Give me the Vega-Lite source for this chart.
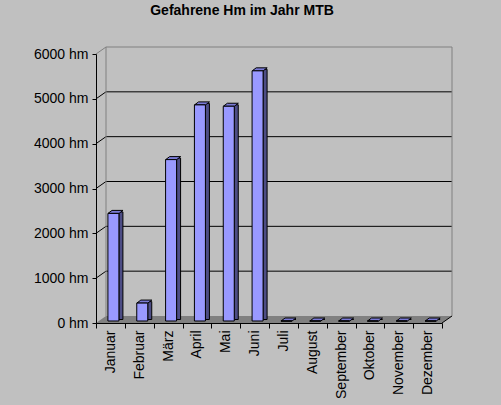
{
  "$schema": "https://vega.github.io/schema/vega-lite/v6.json",
  "width": 346,
  "height": 269,
  "autosize": "none",
  "padding": {"left": 96, "top": 54, "right": 59, "bottom": 82},
  "background": "#C0C0C0",
  "config": {"view": {"stroke": null}, "font": "Liberation Sans"},
  "title": {"text": "Gefahrene Hm im Jahr MTB", "font": "Liberation Sans", "fontSize": 14, "fontWeight": "bold", "color": "#000000", "anchor": "middle", "frame": "group", "baseline": "alphabetic", "offset": 18, "dx": -27},
  "datasets": {
    "bars": [
      {"monat": "Januar", "hm": 2400},
      {"monat": "Februar", "hm": 400},
      {"monat": "März", "hm": 3600},
      {"monat": "April", "hm": 4820},
      {"monat": "Mai", "hm": 4790},
      {"monat": "Juni", "hm": 5580},
      {"monat": "Juli", "hm": 0},
      {"monat": "August", "hm": 0},
      {"monat": "September", "hm": 0},
      {"monat": "Oktober", "hm": 0},
      {"monat": "November", "hm": 0},
      {"monat": "Dezember", "hm": 0}
    ],
    "grid": [{"v": 1000}, {"v": 2000}, {"v": 3000}, {"v": 4000}, {"v": 5000}],
    "one": [{"k": 1}]
  },
  "layer": [
    {
      "data": {"name": "one"},
      "mark": {"type": "point", "shape": "M-1,0.01966L0.9438,0.01966L1,-0.01966L-0.9438,-0.01966Z", "size": 126736, "filled": true, "fill": "#808080", "strokeWidth": 0, "opacity": 1, "xOffset": 5, "yOffset": -3.5},
      "encoding": {
        "x": {"datum": "Juli", "type": "nominal", "bandPosition": 0,
          "scale": {"domain": ["Januar", "Februar", "März", "April", "Mai", "Juni", "Juli", "August", "September", "Oktober", "November", "Dezember"], "paddingInner": 0, "paddingOuter": 0},
          "axis": {"title": null, "labelAngle": -90, "labelAlign": "right", "labelBaseline": "middle", "labelFont": "Liberation Sans", "labelFontSize": 14, "labelColor": "#000000", "labelPadding": 2, "labelOverlap": false, "labelBound": false, "tickBand": "extent", "tickSize": 5, "tickColor": "#000000", "domainColor": "#000000", "grid": false, "zindex": 1}},
        "y": {"datum": 0, "type": "quantitative",
          "scale": {"domain": [0, 6000], "nice": false, "zero": true},
          "axis": {"title": null, "values": [0, 1000, 2000, 3000, 4000, 5000, 6000], "labelExpr": "datum.value + ' hm'", "labelFont": "Liberation Sans", "labelFontSize": 14, "labelColor": "#000000", "labelPadding": 4, "tickSize": 4, "tickColor": "#000000", "domainColor": "#000000", "grid": false, "zindex": 1}}
      }
    },
    {
      "data": {"name": "grid"},
      "mark": {"type": "rule", "color": "#000000", "strokeWidth": 1, "xOffset": 10, "x2Offset": 10, "yOffset": -7, "y2Offset": -7},
      "encoding": {
        "x": {"datum": "Januar", "type": "nominal", "bandPosition": 0},
        "x2": {"datum": "Dezember", "bandPosition": 1},
        "y": {"field": "v", "type": "quantitative"}
      }
    },
    {
      "data": {"name": "grid"},
      "mark": {"type": "rule", "color": "#000000", "strokeWidth": 1, "x2Offset": 10, "y2Offset": -7},
      "encoding": {
        "x": {"datum": "Januar", "type": "nominal", "bandPosition": 0},
        "x2": {"datum": "Januar", "bandPosition": 0},
        "y": {"field": "v", "type": "quantitative"},
        "y2": {"field": "v"}
      }
    },
    {
      "data": {"name": "one"},
      "mark": {"type": "rule", "color": "#808080", "strokeWidth": 1, "xOffset": 10, "x2Offset": 10, "yOffset": -7, "y2Offset": -7},
      "encoding": {
        "x": {"datum": "Januar", "type": "nominal", "bandPosition": 0},
        "x2": {"datum": "Dezember", "bandPosition": 1},
        "y": {"datum": 6000, "type": "quantitative"}
      }
    },
    {
      "data": {"name": "one"},
      "mark": {"type": "rule", "color": "#808080", "strokeWidth": 1, "xOffset": 10, "yOffset": -7, "y2Offset": -7},
      "encoding": {
        "x": {"datum": "Januar", "type": "nominal", "bandPosition": 0},
        "y": {"datum": 6000, "type": "quantitative"},
        "y2": {"datum": 0}
      }
    },
    {
      "data": {"name": "one"},
      "mark": {"type": "rule", "color": "#808080", "strokeWidth": 1, "xOffset": 10, "yOffset": -7, "y2Offset": -7},
      "encoding": {
        "x": {"datum": "Dezember", "type": "nominal", "bandPosition": 1},
        "y": {"datum": 6000, "type": "quantitative"},
        "y2": {"datum": 0}
      }
    },
    {
      "data": {"name": "one"},
      "mark": {"type": "rule", "color": "#808080", "strokeWidth": 1, "x2Offset": 10, "y2Offset": -7},
      "encoding": {
        "x": {"datum": "Januar", "type": "nominal", "bandPosition": 0},
        "x2": {"datum": "Januar", "bandPosition": 0},
        "y": {"datum": 6000, "type": "quantitative"},
        "y2": {"datum": 6000}
      }
    },
    {
      "data": {"name": "one"},
      "mark": {"type": "rule", "color": "#000000", "strokeWidth": 1, "x2Offset": 10, "y2Offset": -7},
      "encoding": {
        "x": {"datum": "Dezember", "type": "nominal", "bandPosition": 1},
        "x2": {"datum": "Dezember", "bandPosition": 1},
        "y": {"datum": 0, "type": "quantitative"},
        "y2": {"datum": 0}
      }
    },
    {
      "data": {"name": "bars"},
      "mark": {"type": "bar", "width": 4, "xOffset": 10.5, "yOffset": -3.5, "y2Offset": -3.5, "fill": "#4D4D85", "stroke": "#000000", "strokeWidth": 1},
      "encoding": {
        "x": {"field": "monat", "type": "nominal"},
        "y": {"field": "hm", "type": "quantitative"},
        "y2": {"datum": 0}
      }
    },
    {
      "data": {"name": "bars"},
      "mark": {"type": "point", "shape": "M-1,0.2L0.4667,0.2L1,-0.2L-0.4667,-0.2Z", "size": 225, "filled": true, "fill": "#7A7AD6", "stroke": "#000000", "strokeWidth": 1, "opacity": 1, "xOffset": 5.1, "yOffset": -3.5},
      "encoding": {
        "x": {"field": "monat", "type": "nominal"},
        "y": {"field": "hm", "type": "quantitative"}
      }
    },
    {
      "data": {"name": "bars"},
      "mark": {"type": "bar", "width": 11, "xOffset": 3, "yOffset": -2, "y2Offset": -2, "fill": "#9999FF", "stroke": "#000000", "strokeWidth": 1},
      "encoding": {
        "x": {"field": "monat", "type": "nominal"},
        "y": {"field": "hm", "type": "quantitative"},
        "y2": {"datum": 0}
      }
    }
  ]
}
